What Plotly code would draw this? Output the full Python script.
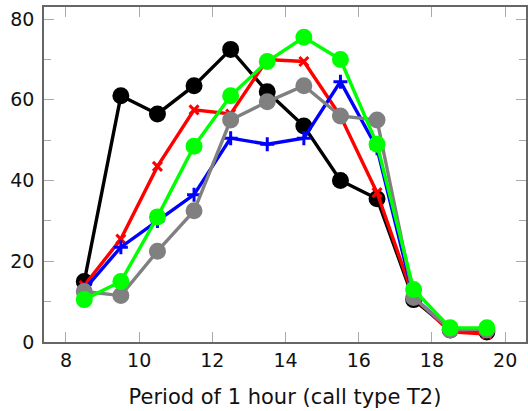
import plotly.graph_objects as go

x = [8.5, 9.5, 10.5, 11.5, 12.5, 13.5, 14.5, 15.5, 16.5, 17.5, 18.5, 19.5]
black = [15, 61, 56.5, 63.5, 72.5, 62, 53.5, 40, 35.5, 10.5, 3, 2.5]
red = [14, 25.5, 43.5, 57.5, 56.5, 70, 69.5, 56, 37, 11, 2.5, 2]
blue = [13, 23.5, 30, 36.5, 50.5, 49, 50.5, 64.5, 48, 11, 3, 3]
gray = [12.5, 11.5, 22.5, 32.5, 55, 59.5, 63.5, 56, 55, 11, 3, 3]
green = [10.5, 15, 31, 48.5, 61, 69.5, 75.5, 70, 49, 13, 3.5, 3.5]

x_ticks = [8, 10, 12, 14, 16, 18, 20]
y_ticks = [0, 20, 40, 60, 80]
x_title = "Period of 1 hour (call type T2)"

FONT = "DejaVu Sans, sans-serif"

fig = go.Figure()
series = [
    (black, "#000000", "circle", 14),
    (red, "#ff0000", "x-thin-open", 9),
    (blue, "#0000ff", "cross-thin-open", 10),
    (gray, "#808080", "circle", 14),
    (green, "#00ff00", "circle", 14),
]
for ys, col, sym, size in series:
    fig.add_trace(go.Scatter(
        x=x, y=ys, mode="lines+markers",
        line=dict(color=col, width=3.4),
        marker=dict(symbol=sym, size=size, color=col,
                    line=dict(color=col, width=3)),
        showlegend=False,
    ))

axis_common = dict(
    showline=True, linecolor="#666666", linewidth=1.5, mirror="ticks",
    ticks="inside", ticklen=10, tickcolor="#aaaaaa", tickwidth=1.2,
    showgrid=False, zeroline=False,
    tickfont=dict(family=FONT, size=19, color="#111111"),
)
fig.update_xaxes(range=[7.4, 20.57], tickvals=x_ticks, ticktext=[str(v) for v in x_ticks],
                 title=dict(text=x_title, font=dict(family=FONT, size=21, color="#111111"), standoff=20),
                 **axis_common)
fig.update_yaxes(range=[0, 83], tickvals=y_ticks, ticktext=[str(v) for v in y_ticks],
                 ticklabelstandoff=4,
                 minor=dict(ticks="inside", ticklen=7, tickcolor="#aaaaaa", tickwidth=1.2, dtick=10, tick0=0, showgrid=False),
                 **axis_common)
fig.update_layout(
    width=528, height=411,
    margin=dict(l=44, r=0, t=7, b=69),
    plot_bgcolor="white", paper_bgcolor="white",
)
fig.write_html("out.html",
               config={"displayModeBar": False},
               post_script="document.body.style.margin='0';document.body.style.overflow='hidden';")
